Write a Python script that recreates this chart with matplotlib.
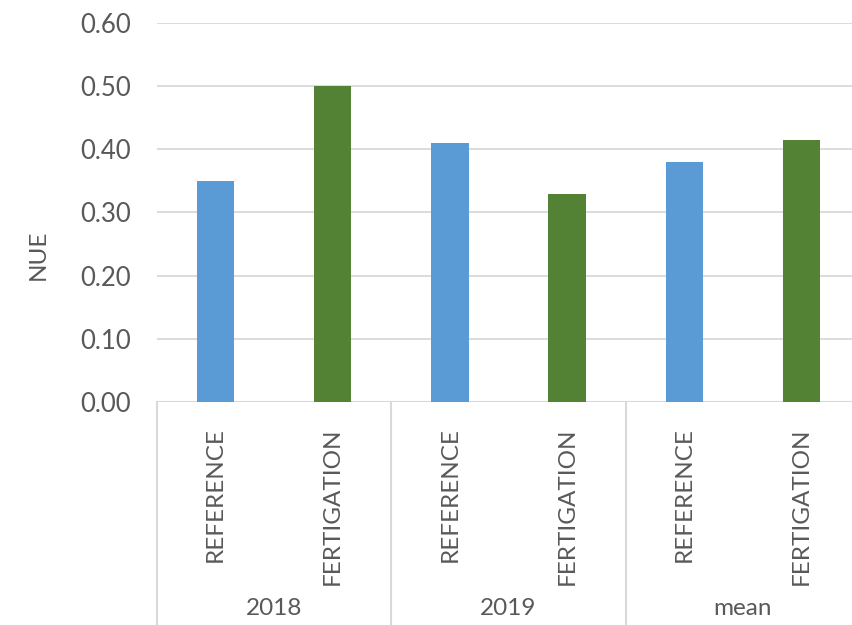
import matplotlib
matplotlib.use("Agg")
import matplotlib.pyplot as plt
import matplotlib.transforms as mtransforms

plt.rcParams['font.family'] = ['Lato', 'DejaVu Sans']

groups = ["2018", "2019", "mean"]
treatments = ["REFERENCE", "FERTIGATION"]
values = [0.35, 0.50, 0.41, 0.33, 0.38, 0.415]
colors = ["#5B9BD5", "#548235"]
yticks = [0.0, 0.1, 0.2, 0.3, 0.4, 0.5, 0.6]

W, H = 852, 625
fig = plt.figure(figsize=(W / 100, H / 100), dpi=100)
left, right, top, bottom = 157, 860, 23, 402
ax = fig.add_axes([left / W, 1 - bottom / H, (right - left) / W, (bottom - top) / H])

txt = "#595959"
grid = "#D9D9D9"
n = len(values)
xs = list(range(n))
for i, v in enumerate(values):
    ax.bar(i, v, width=0.32, color=colors[i % 2], zorder=3)

ax.set_xlim(-0.5, n - 0.5)
ax.set_ylim(0, 0.6)
ax.set_yticks(yticks)
ax.set_yticklabels([f"{t:.2f}" for t in yticks], fontsize=18.5, color=txt)
ax.tick_params(axis='y', length=0, pad=19)
ax.set_xticks([])
for s in ax.spines.values():
    s.set_visible(False)
ax.grid(axis='y', color=grid, linewidth=1.3, zorder=0)
ax.axhline(0, color=grid, linewidth=1.5, zorder=2)

trans = mtransforms.blended_transform_factory(ax.transData, ax.transAxes)
for i in xs:
    ax.text(i, -0.066, treatments[i % 2], rotation=90, ha='center', va='top',
            fontsize=17.5, color=txt, transform=trans)
for g, name in enumerate(groups):
    ax.text(2 * g + 0.5, -0.545, name, ha='center', va='center',
            fontsize=17.5, color=txt, transform=trans)
for b in [-0.5, 1.5, 3.5]:
    ax.plot([b, b], [0, -0.62], color=grid, linewidth=1.5, transform=trans, clip_on=False)

fig.text(38 / W, 1 - 255 / H, "NUE", rotation=90, ha='center', va='center',
         fontsize=17.5, color=txt)

fig.savefig("out.png", dpi=100)
